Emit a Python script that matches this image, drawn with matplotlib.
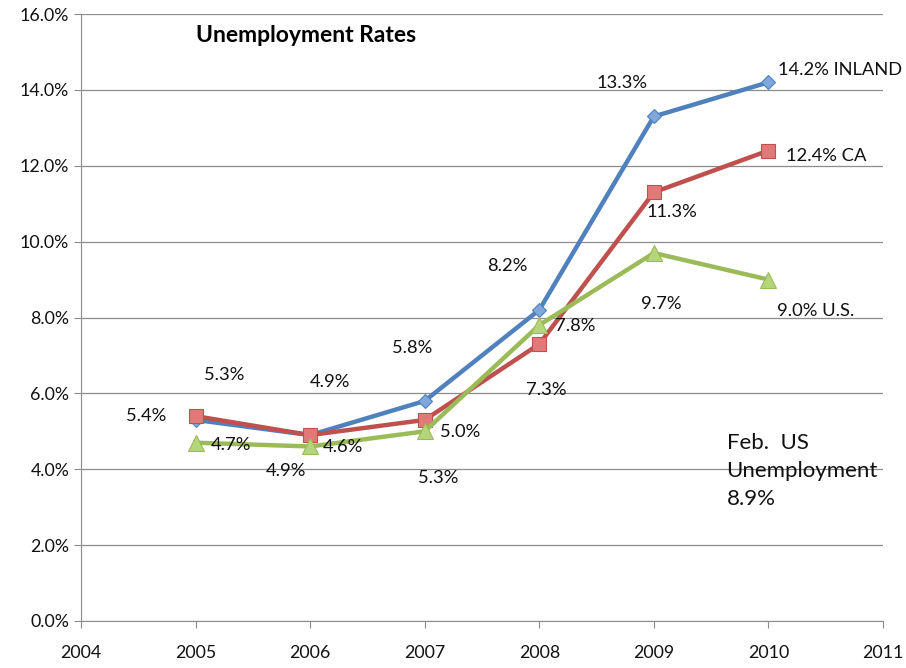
import matplotlib.pyplot as plt
from matplotlib.ticker import FuncFormatter

years = [2005, 2006, 2007, 2008, 2009, 2010]
inland = [5.3, 4.9, 5.8, 8.2, 13.3, 14.2]
ca = [5.4, 4.9, 5.3, 7.3, 11.3, 12.4]
us = [4.7, 4.6, 5.0, 7.8, 9.7, 9.0]

# label offsets in pixels (dx, dy) from each point
inland_off = [(29, 45), (20, 53), (-13, 53), (-32, 44), (-32, 33), (10, 12)]
ca_off = [(-49, 0), (-24, -36), (13, -58), (7, -46), (18, -20), (18, -5)]
us_off = [(35, -2), (33, -1), (35, -1), (36, -1), (7, -51), (9, -31)]
end_names = ['INLAND', 'CA', 'U.S.']

plt.rcParams['font.family'] = ['Lato', 'DejaVu Sans']

fig = plt.figure(figsize=(9.06, 6.68), dpi=100)
ax = fig.add_axes([0.0894, 0.0704, 0.8852, 0.9086])

series = [
    (inland, inland_off, '#4F81BD', 'D', 7, '#7FA7DC'),
    (ca, ca_off, '#C0504D', 's', 10, '#E07A78'),
    (us, us_off, '#9BBB59', '^', 11, '#B5D57A'),
]
for k, (vals, offs, col, mk, ms, face) in enumerate(series):
    ax.plot(years, vals, color=col, lw=3.2, marker=mk, ms=ms,
            mfc=face, mec=col, mew=0.8, zorder=3)
    for i, (x, v) in enumerate(zip(years, vals)):
        txt = '%.1f%%' % v
        ha = 'center'
        if i == len(years) - 1:
            txt = txt + ' ' + end_names[k]
            ha = 'left'
        ax.annotate(txt, (x, v), xytext=offs[i], textcoords='offset pixels',
                    ha=ha, va='center', fontsize=13.2, color='#111111')

ax.set_xlim(2004, 2011)
ax.set_ylim(0, 16)
ax.set_xticks(range(2004, 2012))
ax.set_yticks([0, 2, 4, 6, 8, 10, 12, 14, 16])
ax.yaxis.set_major_formatter(FuncFormatter(lambda v, p: '%.1f%%' % v))
ax.grid(axis='y', color='#8c8c8c', lw=0.9)
ax.set_axisbelow(True)
for s in ['top', 'right']:
    ax.spines[s].set_visible(False)
for s in ['left', 'bottom']:
    ax.spines[s].set_color('#8c8c8c')
ax.tick_params(axis='both', labelsize=12.8, colors='#8c8c8c', labelcolor='#111111', length=5)
ax.tick_params(axis='x', pad=12)

ax.text(0.144, 0.965, 'Unemployment Rates', transform=ax.transAxes,
        fontsize=16.5, fontweight='bold', va='center', ha='left')
ax.text(0.805, 0.185, 'Feb.  US\nUnemployment\n8.9%', transform=ax.transAxes,
        fontsize=16, va='bottom', ha='left', linespacing=1.5, color='#111111')

fig.savefig('out.png', dpi=100)
